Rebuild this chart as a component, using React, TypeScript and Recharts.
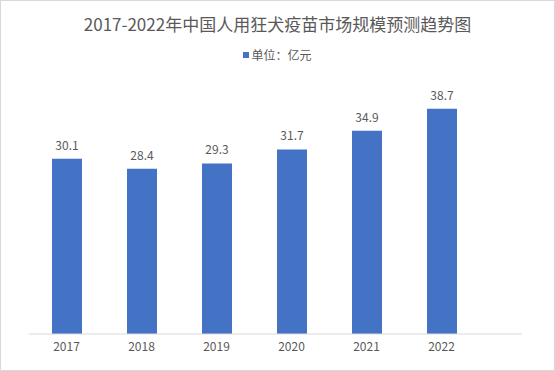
import React from 'react'
import { BarChart, Bar, XAxis, YAxis, LabelList, Legend } from 'recharts'

const years = ['2017', '2018', '2019', '2020', '2021', '2022']
const marketSize = [30.1, 28.4, 29.3, 31.7, 34.9, 38.7]

const data = years.map((year, i) => ({ year, value: marketSize[i] }))

const font = '"Noto Sans CJK SC", "Noto Sans", sans-serif'
const textColor = '#595959'

const LegendContent = () => (
  <div style={{ display: 'flex', justifyContent: 'center', alignItems: 'center', fontFamily: font, fontSize: 12, color: textColor }}>
    <span style={{ display: 'inline-block', width: 6, height: 6, background: '#4472C4', marginRight: 2 }} />
    <span>单位：亿元</span>
  </div>
)

export default function App() {
  return (
    <div style={WrapStyle}>
      <div style={TitleStyle}>2017-2022年中国人用狂犬疫苗市场规模预测趋势图</div>
      <BarChart
        width={553}
        height={369}
        data={data}
        margin={{ top: 71, right: 32, left: 28, bottom: 6 }}
      >
        <Legend
          verticalAlign="middle"
          layout="horizontal"
          content={<LegendContent />}
          wrapperStyle={{ top: 45, left: 0, width: 553 }}
        />
        <XAxis
          dataKey="year"
          stroke="#d9d9d9"
          tickLine={false}
          height={30}
          padding={{ left: 0, right: 43 }}
          tick={{ fill: textColor, fontSize: 12, fontFamily: font }}
        />
        <YAxis hide domain={[0, 45]} />
        <Bar dataKey="value" fill="#4472C4" barSize={30} isAnimationActive={false}>
          <LabelList
            dataKey="value"
            position="top"
            offset={9}
            fill={textColor}
            fontSize={12}
            fontFamily={font}
          />
        </Bar>
      </BarChart>
    </div>
  )
}

const WrapStyle: React.CSSProperties = {
  position: 'absolute',
  left: 0,
  top: 0,
  width: 553,
  height: 369,
  border: '1px solid #d9d9d9',
  background: '#fff',
}

const TitleStyle: React.CSSProperties = {
  position: 'absolute',
  top: 10,
  left: 0,
  width: 553,
  textAlign: 'center',
  fontFamily: font,
  fontSize: 17,
  color: textColor,
  lineHeight: '26px',
}
